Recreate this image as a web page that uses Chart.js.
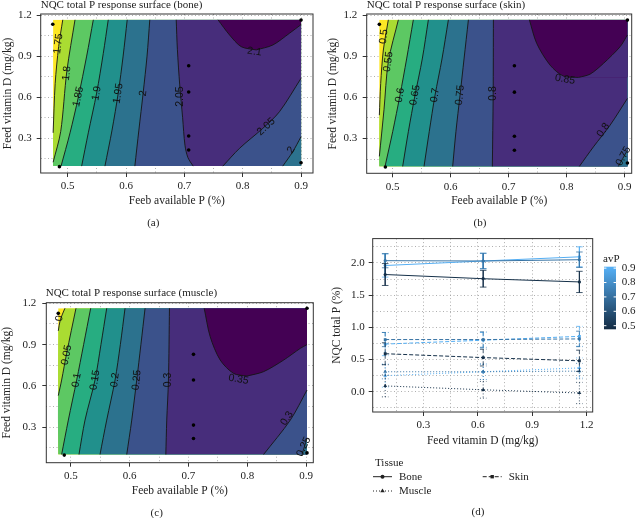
<!DOCTYPE html>
<html>
<head>
<meta charset="utf-8">
<script src="https://cdn.jsdelivr.net/npm/chart.js@4.4.1/dist/chart.umd.min.js"></script>
<style>
  body { margin: 0; background: #fff; }
  #wrap { position: relative; width: 640px; height: 518px; overflow: hidden; }
  canvas { position: absolute; }
</style>
</head>
<body>
<div id="wrap">
  <canvas id="bone" width="320" height="232" style="left:0;top:0"></canvas>
  <canvas id="skin" width="320" height="232" style="left:320px;top:0"></canvas>
  <canvas id="muscle" width="320" height="229" style="left:0;top:289px"></canvas>
  <canvas id="lines" width="320" height="290" style="left:320px;top:228px"></canvas>
</div>
<script>
const serif = "'Liberation Serif', 'Times New Roman', serif";
const sans = "'Liberation Sans', Arial, sans-serif";

// viridis bins, lowest band first
const viridis = ["#FDE725", "#AADC32", "#5DC863", "#27AD81", "#21908C", "#2C728E", "#3B528B", "#472D7B", "#440154"];

///////////////////////////////////////////////////////////
// (a) bone
const boneLevels = [1.75, 1.8, 1.85, 1.9, 1.95, 2, 2.05, 2.1];
const boneLines = [
  { level: 1.75, side: "up", pts: [[0.4915, 1.165], [0.4845, 0.97], [0.4785, 0.7], [0.475, 0.34]] },
  { level: 1.8, side: "up", pts: [[0.5125, 1.165], [0.4985, 0.79], [0.488, 0.35], [0.475, 0.125]] },
  { level: 1.85, side: "up", pts: [[0.5439, 1.165], [0.5325, 0.9], [0.5182, 0.6], [0.504, 0.34], [0.4886, 0.097]] },
  { level: 1.9, side: "up", pts: [[0.5695, 1.165], [0.561, 0.92], [0.5496, 0.63], [0.5353, 0.34], [0.5239, 0.097]] },
  { level: 1.95, side: "up", pts: [[0.602, 1.165], [0.595, 0.9], [0.5866, 0.63], [0.576, 0.36], [0.5638, 0.097]] },
  { level: 2, side: "up", pts: [[0.6407, 1.165], [0.636, 0.9], [0.6293, 0.63], [0.622, 0.36], [0.6151, 0.097]] },
  { level: 2.05, side: "up", pts: [[0.686, 1.165], [0.688, 0.95], [0.692, 0.69], [0.697, 0.45], [0.701, 0.25], [0.706, 0.16], [0.715, 0.097]] },
  { level: 2.1, side: "up", pts: [[0.7576, 1.165], [0.7775, 1.054], [0.7974, 0.969], [0.8231, 0.945]] },
  { level: 2.1, side: "down", pts: [[0.8231, 0.945], [0.8516, 0.981], [0.88, 1.066], [0.9, 1.13]] },
  { level: 2.05, side: "down", pts: [[0.9, 0.738], [0.863, 0.494], [0.8345, 0.373], [0.7946, 0.227], [0.766, 0.097]] },
  { level: 2, side: "down", pts: [[0.9, 0.312], [0.8858, 0.202], [0.8687, 0.097]] }
];
const boneLabels = [
  ["1.75", 0.484, 0.99, -83], ["1.8", 0.4983, 0.774, -83], ["1.85", 0.5182, 0.604, -78],
  ["1.9", 0.5496, 0.628, -80], ["1.95", 0.5866, 0.628, -81], ["2", 0.6293, 0.628, -84],
  ["2.05", 0.692, 0.604, -90], ["2.1", 0.8202, 0.932, 8], ["2.05", 0.8402, 0.385, -42], ["2", 0.883, 0.215, -58]
];
const boneDesign = [[0.4744, 1.132], [0.4858, 0.093], [0.7074, 0.83], [0.7074, 0.638], [0.7074, 0.317], [0.7074, 0.215], [0.9, 1.163], [0.9, 0.122]];

///////////////////////////////////////////////////////////
// (b) skin
const skinLevels = [0.5, 0.55, 0.6, 0.65, 0.7, 0.75, 0.8, 0.85];
const skinLines = [
  { level: 0.5, side: "up", pts: [[0.4925, 1.165], [0.4839, 0.945], [0.4793, 0.7], [0.477, 0.47]] },
  { level: 0.55, side: "up", pts: [[0.5098, 1.165], [0.4925, 0.86], [0.485, 0.51], [0.477, 0.17]] },
  { level: 0.6, side: "up", pts: [[0.5356, 1.165], [0.524, 0.88], [0.5126, 0.616], [0.5, 0.35], [0.4868, 0.097]] },
  { level: 0.65, side: "up", pts: [[0.5615, 1.165], [0.551, 0.88], [0.5385, 0.616], [0.527, 0.35], [0.5172, 0.097]] },
  { level: 0.7, side: "up", pts: [[0.596, 1.165], [0.585, 0.88], [0.573, 0.616], [0.563, 0.35], [0.554, 0.097]] },
  { level: 0.75, side: "up", pts: [[0.6305, 1.165], [0.623, 0.88], [0.6161, 0.616], [0.609, 0.35], [0.6034, 0.097]] },
  { level: 0.8, side: "up", pts: [[0.6736, 1.165], [0.6732, 0.62], [0.6718, 0.097]] },
  { level: 0.85, side: "up", pts: [[0.7356, 1.165], [0.7483, 0.993], [0.7713, 0.835], [0.7943, 0.755], [0.8201, 0.745]] },
  { level: 0.85, side: "down", pts: [[0.8201, 0.745], [0.8402, 0.769], [0.8632, 0.847], [0.892, 0.969], [0.9046, 1.054]] },
  { level: 0.8, side: "down", pts: [[0.9046, 0.592], [0.8747, 0.397], [0.846, 0.239], [0.8218, 0.097]] },
  { level: 0.75, side: "down", pts: [[0.9046, 0.215], [0.889, 0.097]] }
];
const skinLabels = [
  ["0.5", 0.4845, 1.042, -83], ["0.55", 0.4925, 0.859, -82], ["0.6", 0.5126, 0.616, -79],
  ["0.65", 0.5385, 0.616, -80], ["0.7", 0.573, 0.616, -81], ["0.75", 0.6161, 0.616, -84],
  ["0.8", 0.6736, 0.628, -90], ["0.85", 0.7971, 0.73, 10], ["0.8", 0.8632, 0.361, -55], ["0.75", 0.8977, 0.171, -61]
];
const skinDesign = [[0.477, 1.132], [0.4874, 0.093], [0.7098, 0.83], [0.7098, 0.638], [0.7098, 0.317], [0.7098, 0.215], [0.9046, 1.163], [0.9046, 0.122]];

///////////////////////////////////////////////////////////
// (c) muscle
const muscleLevels = [0, 0.05, 0.1, 0.15, 0.2, 0.25, 0.3, 0.35];
const muscleLines = [
  { level: 0, side: "up", pts: [[0.4897, 1.164], [0.4818, 1.08], [0.4784, 1.0]] },
  { level: 0.05, side: "up", pts: [[0.5085, 1.164], [0.4926, 0.837], [0.4841, 0.643], [0.4784, 0.53]] },
  { level: 0.1, side: "up", pts: [[0.5335, 1.164], [0.5215, 0.9], [0.5097, 0.643], [0.4955, 0.3525], [0.4841, 0.103]] },
  { level: 0.15, side: "up", pts: [[0.5608, 1.164], [0.551, 0.9], [0.5409, 0.643], [0.5239, 0.3525], [0.5136, 0.103]] },
  { level: 0.2, side: "up", pts: [[0.592, 1.164], [0.584, 0.9], [0.575, 0.643], [0.5608, 0.3525], [0.5494, 0.103]] },
  { level: 0.25, side: "up", pts: [[0.6261, 1.164], [0.619, 0.9], [0.6119, 0.643], [0.6034, 0.3525], [0.5949, 0.103]] },
  { level: 0.3, side: "up", pts: [[0.6676, 1.164], [0.6659, 0.643], [0.663, 0.3525], [0.6614, 0.103]] },
  { level: 0.35, side: "up", pts: [[0.7267, 1.164], [0.7369, 0.958], [0.754, 0.788], [0.7767, 0.6915], [0.7994, 0.672]] },
  { level: 0.35, side: "down", pts: [[0.7994, 0.672], [0.8278, 0.704], [0.8619, 0.788], [0.8903, 0.873], [0.9017, 0.9]] },
  { level: 0.3, side: "down", pts: [[0.9017, 0.5705], [0.8733, 0.3525], [0.8278, 0.103]] },
  { level: 0.25, side: "down", pts: [[0.9017, 0.22], [0.8932, 0.103]] }
];
const muscleLabels = [
  ["0", 0.4801, 1.09, -80], ["0.05", 0.4926, 0.825, -79], ["0.1", 0.5097, 0.643, -80],
  ["0.15", 0.5409, 0.643, -81], ["0.2", 0.575, 0.643, -82], ["0.25", 0.6119, 0.643, -84],
  ["0.3", 0.6659, 0.643, -90], ["0.35", 0.7852, 0.648, 10], ["0.3", 0.8676, 0.365, -58], ["0.25", 0.896, 0.159, -65]
];
const muscleDesign = [[0.4784, 1.127], [0.4886, 0.0985], [0.7085, 0.8295], [0.7085, 0.643], [0.7085, 0.316], [0.7085, 0.219], [0.9017, 1.164], [0.9017, 0.1145]];

///////////////////////////////////////////////////////////
// (d) NQC total P vs feed vitamin D, one line per avP level
const vitD = [0.09, 0.63, 1.16];
const avPLevels = [0.49, 0.71, 0.9];
const boneMeans = [[1.82, 1.755, 1.705], [2.035, 2.03, 2.05], [1.96, 2.03, 2.095]];
const skinMeans = [[0.59, 0.53, 0.48], [0.81, 0.81, 0.82], [0.74, 0.8, 0.86]];
const muscleMeans = [[0.09, 0.03, -0.02], [0.31, 0.31, 0.32], [0.25, 0.31, 0.37]];
const errHalf = [[0.17, 0.13, 0.165], [0.11, 0.12, 0.12], [0.18, 0.12, 0.155]];
const avPTicks = [0.5, 0.6, 0.7, 0.8, 0.9];
const avPLimits = [0.475, 0.91];

///////////////////////////////////////////////////////////
function avpColor(v) {
  const lo = [19, 43, 67], hi = [86, 177, 247];
  const t = Math.max(0, Math.min(1, (v - avPLimits[0]) / (avPLimits[1] - avPLimits[0])));
  const c = lo.map((a, i) => Math.round(a + (hi[i] - a) * t));
  return `rgb(${c[0]},${c[1]},${c[2]})`;
}

function axis(range, step, major, title, titlePad, size, tickPad) {
  const isMajor = (v) => Math.abs(v / major - Math.round(v / major)) < 1e-6;
  return {
    type: "linear",
    min: range[0],
    max: range[1],
    afterFit: (s) => {
      if (s.isHorizontal()) s.height = size;
      else s.width = size;
    },
    border: { display: false, dash: [1, 2.5] },
    grid: {
      color: "#9a9a9a",
      lineWidth: 0.8,
      tickLength: 4,
      tickWidth: 1,
      tickColor: (c) => (c.tick && isMajor(c.tick.value) ? "#333" : "rgba(0,0,0,0)"),
    },
    ticks: {
      stepSize: step,
      includeBounds: false,
      autoSkip: false,
      maxRotation: 0,
      padding: tickPad,
      color: "#222",
      font: { family: serif, size: 11 },
      callback: (v) => (isMajor(v) ? Number(v).toFixed(1) : ""),
    },
    title: { display: true, text: title, color: "#222", font: { family: serif, size: 11.5 }, padding: titlePad },
  };
}

function drawText(ctx, s, x, y, font, align) {
  ctx.font = font;
  ctx.textAlign = align || "left";
  ctx.textBaseline = "middle";
  ctx.fillStyle = "#222";
  ctx.fillText(s, x, y);
}

function contourChart(id, p) {
  const [x0, x1] = p.fieldX;
  const [y0, y1] = p.fieldY;
  const pt = (d) => ({ x: d[0], y: d[1] });
  const sets = [];

  // each band is filled from its contour to the right edge of the field, painted left to right
  const band = (pts, color) => ({
    data: pts.map(pt),
    backgroundColor: color,
    borderColor: "rgba(0,0,0,0)",
    borderWidth: 0,
    pointRadius: 0,
    tension: 0.3,
    fill: { target: { value: x1 } },
  });
  sets.push(band([[x0, y1], [x0, y0]], viridis[0]));
  p.lines.forEach((c) => {
    const pts = c.pts.slice();
    const last = pts[pts.length - 1];
    if (last[0] === x0 && last[1] > y0) pts.push([x0, y0]); // runs down the left edge
    const k = p.levels.indexOf(c.level);
    sets.push(band(pts, viridis[c.side === "up" ? k + 1 : k]));
  });
  p.lines.forEach((c) =>
    sets.push({ data: c.pts.map(pt), borderColor: "#151515", borderWidth: 0.9, pointRadius: 0, tension: 0.3, fill: false })
  );
  sets.push({
    data: p.design.map(pt),
    showLine: false,
    pointRadius: 1.8,
    pointBackgroundColor: "#000",
    pointBorderWidth: 0,
    fill: false,
  });
  sets.forEach((s, i) => (s.order = -i));

  const decor = {
    id: "decor",
    afterDatasetsDraw(chart) {
      const { ctx, chartArea: a, scales } = chart;
      ctx.save();
      p.labels.forEach(([txt, vx, vy, ang]) => {
        ctx.save();
        ctx.translate(scales.x.getPixelForValue(vx), scales.y.getPixelForValue(vy));
        ctx.rotate((ang * Math.PI) / 180);
        ctx.font = `10.5px ${sans}`;
        ctx.fillStyle = "#111";
        ctx.textAlign = "center";
        ctx.textBaseline = "middle";
        ctx.fillText(txt, 0, 0);
        ctx.restore();
      });
      ctx.strokeStyle = "#333";
      ctx.lineWidth = 1;
      ctx.strokeRect(a.left, a.top, a.width, a.height);
      ctx.restore();
    },
    afterDraw(chart) {
      const ctx = chart.ctx;
      ctx.save();
      drawText(ctx, p.title, p.titlePos[0], p.titlePos[1], `11px ${serif}`, "left");
      drawText(ctx, p.caption, p.captionPos[0], p.captionPos[1], `11px ${serif}`, "center");
      ctx.restore();
    },
  };

  new Chart(document.getElementById(id), {
    type: "line",
    data: { datasets: sets },
    options: {
      responsive: false,
      animation: false,
      events: [],
      indexAxis: "y",
      layout: { padding: p.pad },
      plugins: { legend: { display: false }, tooltip: { enabled: false } },
      scales: {
        x: axis(p.xRange, 0.05, 0.1, "Feeb available P (%)", { top: 0, bottom: p.xTitlePad }, p.xAxisH, 3),
        y: axis(p.yRange, 0.15, 0.3, "Feed vitamin D (mg/kg)", { top: p.yTitlePad, bottom: 0 }, p.yAxisW, p.yTickPad),
      },
    },
    plugins: [decor],
  });
}

contourChart("bone", {
  levels: boneLevels, lines: boneLines, labels: boneLabels, design: boneDesign,
  fieldX: [0.475, 0.9], fieldY: [0.097, 1.165],
  xRange: [0.4537, 0.9205], yRange: [0.0467, 1.2073],
  pad: { top: 14, right: 7, left: 0, bottom: 0 },
  yAxisW: 40.7, xAxisH: 59, xTitlePad: 24.1, yTitlePad: 0.6, yTickPad: 5,
  title: "NQC total P response surface (bone)", titlePos: [40.7, 5],
  caption: "(a)", captionPos: [153.3, 223],
});

contourChart("skin", {
  levels: skinLevels, lines: skinLines, labels: skinLabels, design: skinDesign,
  fieldX: [0.477, 0.9046], fieldY: [0.097, 1.165],
  xRange: [0.4552, 0.912], yRange: [0.0467, 1.2073],
  pad: { top: 14, right: 8.3, left: 0, bottom: 0 },
  yAxisW: 46.7, xAxisH: 58.7, xTitlePad: 24.1, yTitlePad: 6.4, yTickPad: 5.4,
  title: "NQC total P response surface (skin)", titlePos: [46.7, 5],
  caption: "(b)", captionPos: [160, 223],
});

contourChart("muscle", {
  levels: muscleLevels, lines: muscleLines, labels: muscleLabels, design: muscleDesign,
  fieldX: [0.4784, 0.9017], fieldY: [0.103, 1.164],
  xRange: [0.458, 0.9124], yRange: [0.0433, 1.2044],
  pad: { top: 13.7, right: 6.7, left: 0, bottom: 0 },
  yAxisW: 46.3, xAxisH: 55.3, xTitlePad: 20.4, yTitlePad: 0, yTickPad: 6,
  title: "NQC total P response surface (muscle)", titlePos: [45.7, 3.7],
  caption: "(c)", captionPos: [156.7, 223.7],
});

///////////////////////////////////////////////////////////
// (d)
const tissues = [
  { name: "Bone", means: boneMeans, dash: [], point: "circle", r: 1.6 },
  { name: "Skin", means: skinMeans, dash: [4, 2], point: "rect", r: 2 },
  { name: "Muscle", means: muscleMeans, dash: [1, 2], point: "triangle", r: 2.2 },
];
const capHalf = 0.018;

const lineSets = [];
tissues.forEach((t) => {
  avPLevels.forEach((lvl, j) => {
    const col = avpColor(lvl);
    const bars = [];
    vitD.forEach((xv, i) => {
      const m = t.means[j][i];
      const e = errHalf[j][i];
      bars.push({ x: xv - capHalf, y: m + e }, { x: xv + capHalf, y: m + e }, { x: xv, y: null });
      bars.push({ x: xv, y: m + e }, { x: xv, y: m - e }, { x: xv, y: null });
      bars.push({ x: xv - capHalf, y: m - e }, { x: xv + capHalf, y: m - e }, { x: xv, y: null });
    });
    lineSets.push({
      data: bars, borderColor: col, borderWidth: 0.8, borderDash: t.dash,
      pointRadius: 0, fill: false, tension: 0, spanGaps: false,
    });
    lineSets.push({
      data: vitD.map((xv, i) => ({ x: xv, y: t.means[j][i] })),
      borderColor: col, borderWidth: 1, borderDash: t.dash, fill: false, tension: 0,
      pointStyle: t.point, pointRadius: t.r, pointBackgroundColor: col, pointBorderColor: col, pointBorderWidth: 0,
    });
  });
});

const linesDecor = {
  id: "linesDecor",
  afterDatasetsDraw(chart) {
    const { ctx, chartArea: a } = chart;
    ctx.save();
    ctx.strokeStyle = "#333";
    ctx.lineWidth = 1;
    ctx.strokeRect(a.left, a.top, a.width, a.height);
    ctx.restore();
  },
  afterDraw(chart) {
    const ctx = chart.ctx;
    ctx.save();

    // colour bar for avP
    const bl = 284, br = 296, bt = 38.7, bb = 101.3;
    const g = ctx.createLinearGradient(0, bb, 0, bt);
    g.addColorStop(0, avpColor(avPLimits[0]));
    g.addColorStop(1, avpColor(avPLimits[1]));
    ctx.fillStyle = g;
    ctx.fillRect(bl, bt, br - bl, bb - bt);
    drawText(ctx, "avP", 283, 31.5, `11px ${serif}`, "left");
    avPTicks.forEach((v) => {
      const yy = bb - ((v - avPLimits[0]) / (avPLimits[1] - avPLimits[0])) * (bb - bt);
      ctx.strokeStyle = "#fff";
      ctx.lineWidth = 1;
      ctx.beginPath();
      ctx.moveTo(bl, yy); ctx.lineTo(bl + 2.4, yy);
      ctx.moveTo(br - 2.4, yy); ctx.lineTo(br, yy);
      ctx.stroke();
      drawText(ctx, v.toFixed(1), 301.7, yy, `11px ${serif}`, "left");
    });

    // tissue legend
    drawText(ctx, "Tissue", 55, 235.3, `11px ${serif}`, "left");
    const rows = [[53, 248.7], [162.7, 248.7], [53, 263]];
    tissues.forEach((t, i) => {
      const [lx, ly] = rows[i];
      ctx.strokeStyle = "#222";
      ctx.lineWidth = 1;
      ctx.setLineDash(t.dash);
      ctx.beginPath();
      ctx.moveTo(lx, ly); ctx.lineTo(lx + 19, ly);
      ctx.stroke();
      ctx.setLineDash([]);
      ctx.fillStyle = "#222";
      Chart.helpers.drawPoint(ctx, { pointStyle: t.point, radius: t.r + 0.4, borderWidth: 0, rotation: 0 }, lx + 9.5, ly);
      drawText(ctx, t.name, lx + 26, ly, `11px ${serif}`, "left");
    });

    drawText(ctx, "(d)", 158, 283.7, `11px ${serif}`, "center");
    ctx.restore();
  },
};

new Chart(document.getElementById("lines"), {
  type: "line",
  data: { datasets: lineSets },
  options: {
    responsive: false,
    animation: false,
    events: [],
    layout: { padding: { top: 10.3, right: 47.3, left: 0, bottom: 58 } },
    plugins: { legend: { display: false }, tooltip: { enabled: false } },
    scales: {
      x: axis([0.0212, 1.2333], 0.15, 0.3, "Feed vitamin D (mg/kg)", { top: 0, bottom: 12.4 }, 48, 3),
      y: axis([-0.315, 2.378], 0.25, 0.5, "NQC total P (%)", { top: 10.4, bottom: 0 }, 52.7, 4),
    },
  },
  plugins: [linesDecor],
});
</script>
</body>
</html>
